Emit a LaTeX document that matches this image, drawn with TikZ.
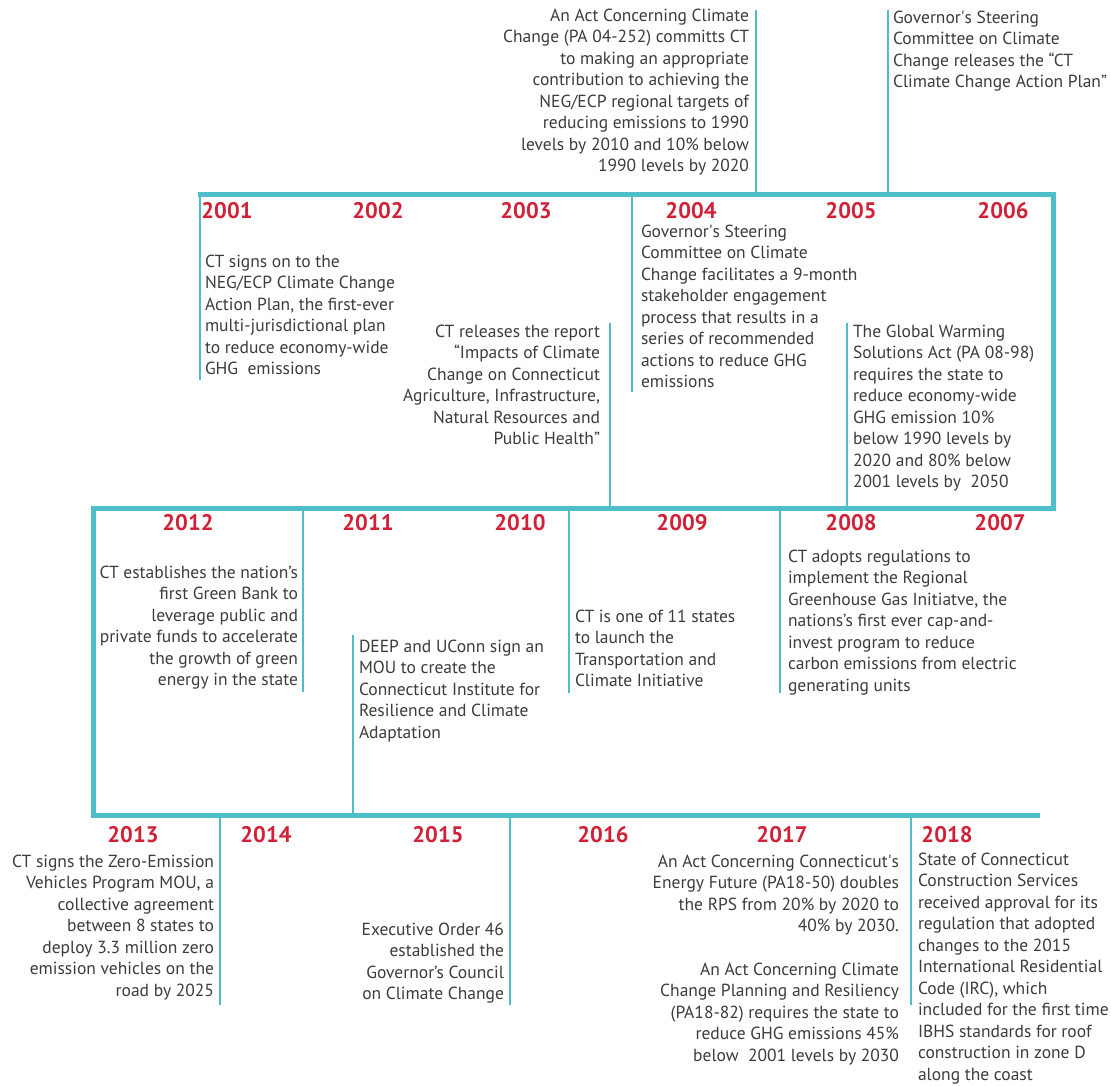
\documentclass[tikz,border=0pt]{standalone}
\usepackage{fontspec}
\setmainfont{PT Sans}
\definecolor{tealc}{RGB}{78,190,200}
\definecolor{yearred}{RGB}{208,33,56}
\definecolor{txtgray}{RGB}{60,60,60}
\begin{document}
\begin{tikzpicture}[x=1pt,y=-1pt,
  every node/.style={inner sep=0pt, outer sep=0pt},
  yr/.style={font=\fontsize{22.5}{26}\selectfont\bfseries, text=yearred, anchor=center},
  body/.style={font=\fontsize{17.5}{21.5}\selectfont, text=txtgray},
  bodyL/.style={body, align=left, anchor=north west},
  bodyR/.style={body, align=right, anchor=north east},
  axisline/.style={draw=tealc, line width=5pt, line join=miter},
  tickline/.style={draw=tealc, line width=2.5pt}]
\fill[white] (0,0) rectangle (1111,1086);
\useasboundingbox (0,0) rectangle (1111,1086);

% main timeline
\coordinate (A1) at (198,195);
\coordinate (A2) at (1053,195);
\coordinate (A3) at (1053,508);
\coordinate (A4) at (93,508);
\coordinate (A5) at (93,815);
\coordinate (A6) at (1040,815);
\draw[axisline] (A1) -- (A2) -- (A3) -- (A4) -- (A5) -- (A6);

% tick lines
\coordinate (t1a) at (756,10);  \coordinate (t1b) at (756,195);
\coordinate (t2a) at (888,10);  \coordinate (t2b) at (888,195);
\coordinate (t3a) at (200,195); \coordinate (t3b) at (200,380);
\coordinate (t4a) at (610,323); \coordinate (t4b) at (610,508);
\coordinate (t5a) at (632,195); \coordinate (t5b) at (632,392);
\coordinate (t6a) at (847,323); \coordinate (t6b) at (847,508);
\coordinate (t7a) at (303,508); \coordinate (t7b) at (303,692);
\coordinate (t8a) at (353,635); \coordinate (t8b) at (353,815);
\coordinate (t9a) at (569,508); \coordinate (t9b) at (569,693);
\coordinate (t10a) at (780,508); \coordinate (t10b) at (780,693);
\coordinate (t11a) at (220,815); \coordinate (t11b) at (220,1005);
\coordinate (t12a) at (510,815); \coordinate (t12b) at (510,1005);
\coordinate (t13a) at (911,815); \coordinate (t13b) at (911,1005);
\foreach \i in {1,...,13} \draw[tickline] (t\i a) -- (t\i b);

% years
\node[yr] (y2001) at (227,211) {2001};
\node[yr] (y2002) at (378,211) {2002};
\node[yr] (y2003) at (526,211) {2003};
\node[yr] (y2004) at (691,211) {2004};
\node[yr] (y2005) at (851,211) {2005};
\node[yr] (y2006) at (1003,211) {2006};
\node[yr] (y2012) at (188,523) {2012};
\node[yr] (y2011) at (368,523) {2011};
\node[yr] (y2010) at (520,523) {2010};
\node[yr] (y2009) at (682,523) {2009};
\node[yr] (y2008) at (851,523) {2008};
\node[yr] (y2007) at (1000,523) {2007};
\node[yr] (y2013) at (133,835) {2013};
\node[yr] (y2014) at (266,835) {2014};
\node[yr] (y2015) at (438,835) {2015};
\node[yr] (y2016) at (603,835) {2016};
\node[yr] (y2017) at (782,835) {2017};
\node[yr] (y2018) at (947,835) {2018};

% event texts
\node[bodyR] (e04a) at (749,6) {\strut An Act Concerning Climate\\Change (PA 04-252) committs CT\\to making an appropriate\\contribution to achieving the\\NEG/ECP regional targets of\\reducing emissions to 1990\\levels by 2010 and 10\% below\\1990 levels by 2020};
\node[bodyL] (e05a) at (893,8) {\strut Governor\textquotesingle s Steering\\Committee on Climate\\Change releases the “CT\\Climate Change Action Plan”};
\node[bodyL] (e01) at (205,252) {\strut CT signs on to the\\NEG/ECP Climate Change\\Action Plan, the first-ever\\multi-jurisdictional plan\\to reduce economy-wide\\GHG\ \ emissions};
\node[bodyR] (e03) at (600,322) {\strut CT releases the report\\“Impacts of Climate\\Change on Connecticut\\Agriculture, Infrastructure,\\Natural Resources and\\Public Health”};
\node[bodyL] (e04b) at (641,222) {\strut Governor\textquotesingle s Steering\\Committee on Climate\\Change facilitates a 9-month\\stakeholder engagement\\process that results in a\\series of recommended\\actions to reduce GHG\\emissions};
\node[bodyL] (e08a) at (853,322) {\strut The Global Warming\\Solutions Act (PA 08-98)\\requires the state to\\reduce economy-wide\\GHG emission 10\%\\below 1990 levels by\\2020 and 80\% below\\2001 levels by\ \ 2050};
\node[bodyR] (e12) at (298,563) {\strut CT establishes the nation’s\\first Green Bank to\\leverage public and\\private funds to accelerate\\the growth of green\\energy in the state};
\node[bodyL] (e11) at (359,637) {\strut DEEP and UConn sign an\\MOU to create the\\Connecticut Institute for\\Resilience and Climate\\Adaptation};
\node[bodyL] (e09) at (575,607) {\strut CT is one of 11 states\\to launch the\\Transportation and\\Climate Initiative};
\node[bodyL] (e08b) at (788,547) {\strut CT adopts regulations to\\implement the Regional\\Greenhouse Gas Initiatve, the\\nations’s first ever cap-and-\\invest program to reduce\\carbon emissions from electric\\generating units};
\node[bodyR] (e13) at (214,852) {\strut CT signs the Zero-Emission\\Vehicles Program MOU, a\\collective agreement\\between 8 states to\\deploy 3.3 million zero\\emission vehicles on the\\road by 2025};
\node[bodyR] (e15) at (504,920) {\strut Executive Order 46\\established the\\Governor’s Council\\on Climate Change};
\node[bodyR] (e17a) at (899,852) {\strut An Act Concerning Connecticut\textquotesingle s\\Energy Future (PA18-50) doubles\\the RPS from 20\% by 2020 to\\40\% by 2030.};
\node[bodyR] (e17b) at (899,960) {\strut An Act Concerning Climate\\Change Planning and Resiliency\\(PA18-82) requires the state to\\reduce GHG emissions 45\%\\below\ \ 2001 levels by 2030};
\node[bodyL] (e18) at (918,850) {\strut State of Connecticut\\Construction Services\\received approval for its\\regulation that adopted\\changes to the 2015\\International Residential\\Code (IRC), which\\included for the first time\\IBHS standards for roof\\construction in zone D\\along the coast};
\end{tikzpicture}
\end{document}
